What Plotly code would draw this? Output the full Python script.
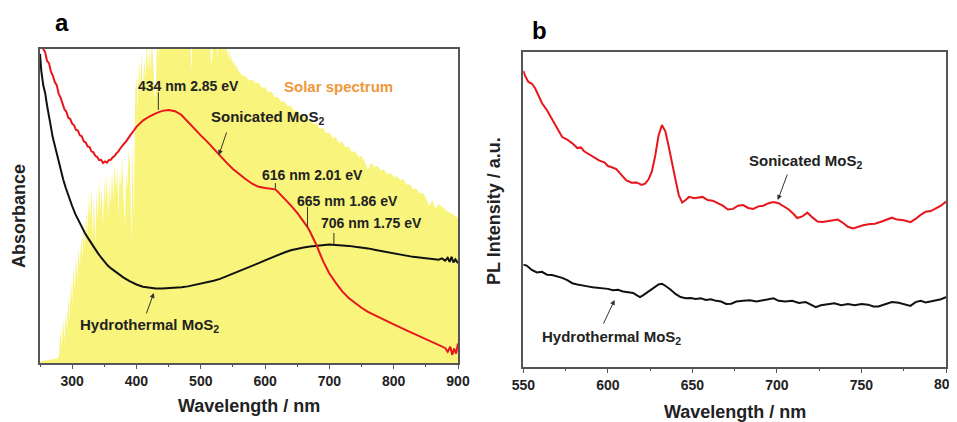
import plotly.graph_objects as go

# ---------------- Panel a : absorbance + solar spectrum ----------------
solar_nm = [250, 265, 278] + list(range(280, 560, 2)) + list(range(560, 905, 5))
solar_val = [0.005, 0.01, 0.015,
    0.03, 0.11, 0.05, 0.14, 0.07, 0.16, 0.10, 0.22, 0.13, 0.27,
    0.18, 0.31, 0.23, 0.34, 0.26, 0.37, 0.30, 0.41, 0.33, 0.45,
    0.37, 0.49, 0.41, 0.53, 0.46, 0.56, 0.40, 0.53, 0.37, 0.55,
    0.45, 0.59, 0.48, 0.56, 0.43, 0.59, 0.50, 0.61, 0.46, 0.58,
    0.50, 0.61, 0.52, 0.64, 0.55, 0.62, 0.47, 0.61, 0.56, 0.66,
    0.51, 0.44, 0.61, 0.55, 0.69, 0.62, 0.38, 0.71, 0.44, 0.86,
    0.92, 0.80, 0.96, 0.88, 0.99, 0.85, 0.97, 0.90, 1.03, 0.92,
    1.00, 0.93, 1.04, 0.95, 0.86, 0.84, 1.05, 0.97, 1.09, 1.01,
    1.12, 1.06, 1.16, 1.10, 1.18, 1.08, 1.20, 1.12, 1.19, 1.14,
    1.21, 1.13, 1.20, 1.15, 1.19, 1.12, 1.18, 1.14, 1.17, 1.10,
    1.16, 1.08, 0.99, 0.93, 1.12, 1.15, 1.09, 1.14, 1.10, 1.15,
    1.12, 1.14, 1.08, 1.13, 1.10, 1.12, 1.06, 1.10, 0.94, 0.98,
    1.08, 1.04, 1.07, 0.97, 1.05, 1.02, 1.06, 1.00, 1.04, 0.99,
    1.02, 0.97, 1.00, 0.96, 0.98, 0.95, 0.96, 0.94, 0.95, 0.93,
    0.928, 0.915, 0.914, 0.900, 0.903, 0.890, 0.894, 0.876, 0.879, 0.862,
    0.864, 0.846, 0.849, 0.831, 0.834, 0.817, 0.820, 0.802, 0.805, 0.788,
    0.792, 0.774, 0.778, 0.760, 0.764, 0.745, 0.749, 0.731, 0.735, 0.716,
    0.720, 0.701, 0.705, 0.686, 0.690, 0.671, 0.675, 0.656, 0.660, 0.642,
    0.615, 0.638, 0.624, 0.627, 0.613, 0.616, 0.600, 0.606, 0.592, 0.595,
    0.583, 0.584, 0.568, 0.569, 0.554, 0.556, 0.540, 0.542, 0.526, 0.500,
    0.519, 0.492, 0.507, 0.497, 0.490, 0.482, 0.476, 0.468, 0.463]

red_a_nm = [252, 255, 258, 261, 264, 267, 270, 273, 276, 279, 282, 285, 288, 291,
            294, 297, 300, 303, 306, 309, 312, 315, 318, 321, 324, 327, 330, 333,
            336, 339, 342, 345, 348, 351, 354, 357, 360, 363, 366, 369, 372, 375,
            378, 381, 384, 387, 390, 395, 400, 410, 420, 430, 440, 450, 460, 470,
            480, 490, 500, 510, 520, 530, 540, 550, 560, 570, 580, 590, 600, 610,
            616, 620, 630, 640, 650, 660, 666, 670, 680, 690, 700, 710, 720, 730,
            740, 750, 760, 780, 800, 820, 840, 860, 870, 880, 884, 888, 891, 894,
            897, 900]
red_a_val = [1.03, 1.0, 0.99, 0.962, 0.955, 0.928, 0.915, 0.895, 0.885, 0.858, 0.845,
             0.822, 0.808, 0.80, 0.781, 0.777, 0.762, 0.757, 0.742, 0.740, 0.725,
             0.722, 0.706, 0.703, 0.69, 0.688, 0.674, 0.671, 0.660, 0.656, 0.646,
             0.647, 0.637, 0.642, 0.638, 0.646, 0.647, 0.655, 0.659, 0.668, 0.674,
             0.684, 0.69, 0.699, 0.706, 0.716, 0.724, 0.738, 0.752, 0.772, 0.785,
             0.795, 0.803, 0.806, 0.802, 0.79, 0.768, 0.745, 0.725, 0.705, 0.682,
             0.658, 0.638, 0.618, 0.600, 0.585, 0.571, 0.561, 0.557, 0.556, 0.553,
             0.545, 0.525, 0.502, 0.478, 0.452, 0.433, 0.418, 0.375, 0.325, 0.285,
             0.255, 0.228, 0.207, 0.19, 0.176, 0.163, 0.142, 0.123, 0.104, 0.085,
             0.066, 0.058, 0.048, 0.036, 0.052, 0.026, 0.046, 0.03, 0.062]

black_a_nm = [250, 252, 255, 258, 261, 264, 267, 270, 274, 278, 282, 286, 290, 295,
              300, 305, 310, 315, 320, 325, 330, 335, 340, 345, 350, 355, 360, 365,
              370, 380, 390, 400, 410, 420, 430, 440, 450, 460, 470, 480, 490, 500,
              510, 520, 530, 540, 550, 560, 570, 580, 590, 600, 610, 620, 630, 640,
              650, 660, 670, 680, 690, 700, 710, 720, 730, 740, 750, 760, 770, 780,
              790, 800, 810, 820, 830, 840, 850, 860, 870, 875, 880, 884, 887, 890,
              893, 896, 900]
black_a_val = [0.985, 0.93, 0.885, 0.86, 0.82, 0.785, 0.75, 0.717, 0.685, 0.65, 0.615,
               0.585, 0.558, 0.527, 0.5, 0.474, 0.452, 0.432, 0.413, 0.397, 0.38,
               0.364, 0.35, 0.336, 0.322, 0.311, 0.302, 0.294, 0.286, 0.272, 0.26,
               0.25, 0.243, 0.239, 0.237, 0.237, 0.238, 0.239, 0.241, 0.244, 0.248,
               0.252, 0.257, 0.262, 0.268, 0.276, 0.284, 0.292, 0.3, 0.309, 0.318,
               0.327, 0.336, 0.345, 0.352, 0.359, 0.364, 0.368, 0.371, 0.373, 0.375,
               0.377, 0.376, 0.375, 0.373, 0.37, 0.368, 0.365, 0.361, 0.357, 0.352,
               0.348, 0.344, 0.341, 0.338, 0.336, 0.334, 0.331, 0.329, 0.333, 0.326,
               0.335, 0.322, 0.338, 0.32, 0.33, 0.318]

# ---------------- Panel b : PL spectra ----------------
red_b_nm = [550, 551, 553, 555, 557, 559, 561, 564, 567, 570, 573, 576, 579, 582, 584,
            586, 589, 592, 595, 598, 600, 602, 605, 608, 611, 614, 617, 620, 622, 624,
            626, 628, 630, 632, 634, 636, 638, 640, 642, 644, 646, 648, 651, 654, 656,
            659, 662, 665, 668, 671, 674, 677, 680, 683, 686, 689, 692, 695, 698, 701,
            704, 707, 710, 712, 715, 718, 721, 724, 727, 730, 733, 736, 739, 742, 745,
            748, 751, 755, 758, 762, 765, 768, 771, 775, 779, 782, 785, 788, 791, 794,
            797, 800]
red_b_val = [0.94, 0.925, 0.905, 0.9, 0.885, 0.86, 0.838, 0.815, 0.785, 0.755, 0.73,
             0.722, 0.71, 0.695, 0.697, 0.685, 0.675, 0.663, 0.655, 0.65, 0.638, 0.635,
             0.628, 0.61, 0.592, 0.585, 0.586, 0.578, 0.582, 0.595, 0.62, 0.67, 0.735,
             0.768, 0.748, 0.70, 0.652, 0.595, 0.545, 0.522, 0.53, 0.54, 0.536, 0.538,
             0.54, 0.53, 0.528, 0.52, 0.512, 0.5, 0.502, 0.512, 0.514, 0.505, 0.502,
             0.51, 0.512, 0.52, 0.524, 0.52, 0.51, 0.5, 0.485, 0.473, 0.478, 0.49,
             0.475, 0.462, 0.46, 0.462, 0.465, 0.468, 0.458, 0.445, 0.44, 0.445, 0.45,
             0.454, 0.455, 0.462, 0.468, 0.474, 0.468, 0.466, 0.46, 0.47, 0.483, 0.493,
             0.495, 0.503, 0.512, 0.525]

black_b_nm = [550, 552, 555, 558, 561, 564, 567, 570, 573, 576, 579, 582, 585, 588, 591,
              594, 597, 600, 603, 606, 609, 612, 615, 617, 619, 621, 624, 627, 630, 632,
              634, 637, 640, 643, 646, 649, 652, 655, 658, 661, 664, 667, 670, 673, 676,
              680, 684, 688, 692, 695, 698, 701, 705, 709, 713, 717, 720, 723, 726, 730,
              734, 738, 742, 746, 750, 754, 757, 760, 764, 768, 772, 776, 779, 782, 785,
              788, 791, 794, 797, 800]
black_b_val = [0.325, 0.322, 0.308, 0.3, 0.302, 0.293, 0.292, 0.288, 0.283, 0.276,
               0.266, 0.262, 0.258, 0.256, 0.253, 0.252, 0.249, 0.248, 0.244, 0.245,
               0.24, 0.238, 0.235, 0.228, 0.222, 0.228, 0.24, 0.25, 0.262, 0.264,
               0.258, 0.246, 0.232, 0.222, 0.218, 0.219, 0.216, 0.218, 0.213, 0.215,
               0.21, 0.208, 0.2, 0.201, 0.208, 0.21, 0.212, 0.208, 0.212, 0.214, 0.218,
               0.21, 0.208, 0.21, 0.203, 0.206, 0.197, 0.19, 0.196, 0.2, 0.202, 0.196,
               0.2, 0.196, 0.2, 0.198, 0.192, 0.192, 0.2, 0.206, 0.204, 0.198, 0.194,
               0.206, 0.21, 0.205, 0.208, 0.212, 0.215, 0.222]

xticks_a = [300, 400, 500, 600, 700, 800, 900]
xticks_b = [550, 600, 650, 700, 750, 800]
xticks_b_text = ["550", "600", "650", "700", "750", ""]   # last label drawn separately (edge)
xlabel_b_last = "800"

FONT = "Liberation Sans, Arial, sans-serif"
RED = "#e8161c"
BLACK = "#111111"
FRAME = "#555555"

# page body has an 8px margin; figure sized to fill the rest of the window
W, H, OFF = 949, 414, 8
def PX(px):
    return (px - OFF) / W
def PY(py):
    return 1 - (py - OFF) / H

fig = go.Figure()
fig.add_trace(go.Scatter(x=solar_nm, y=solar_val, mode="lines", fill="tozeroy",
                         line=dict(width=0, color="#f8f47c"), fillcolor="#f8f47c",
                         xaxis="x", yaxis="y", hoverinfo="skip"))
fig.add_trace(go.Scatter(x=black_a_nm, y=black_a_val, mode="lines",
                         line=dict(width=2, color=BLACK), xaxis="x", yaxis="y"))
fig.add_trace(go.Scatter(x=red_a_nm, y=red_a_val, mode="lines",
                         line=dict(width=2, color=RED), xaxis="x", yaxis="y"))
fig.add_trace(go.Scatter(x=red_b_nm, y=red_b_val, mode="lines",
                         line=dict(width=2, color=RED), xaxis="x2", yaxis="y2"))
fig.add_trace(go.Scatter(x=black_b_nm, y=black_b_val, mode="lines",
                         line=dict(width=2, color=BLACK), xaxis="x2", yaxis="y2"))

axis_common = dict(showline=True, mirror=True, linecolor=FRAME, linewidth=1.5,
                   showgrid=False, zeroline=False, automargin=False)
tickfont = dict(family=FONT, size=14, color="#222", weight="bold")

fig.update_layout(
    template="none",
    width=W, height=H, margin=dict(l=0, r=0, t=0, b=0, pad=0),
    paper_bgcolor="white", plot_bgcolor="white", showlegend=False,
    font=dict(family=FONT, color="#222"),
    xaxis=dict(domain=[PX(40), PX(458)], range=[250, 900], tickvals=xticks_a,
               ticks="outside", ticklen=4, tickwidth=1.2, tickcolor=FRAME,
               tickfont=tickfont, anchor="y",
               minor=dict(dtick=50, tick0=250, ticks="outside", ticklen=2.5, tickcolor=FRAME),
               **axis_common),
    yaxis=dict(domain=[PY(363), PY(49)], range=[0, 1], showticklabels=False,
               ticks="", anchor="x", **axis_common),
    xaxis2=dict(domain=[PX(523.3), PX(946)], range=[550, 800], tickvals=xticks_b,
                ticktext=xticks_b_text,
                ticks="outside", ticklen=4, tickwidth=1.2, tickcolor=FRAME,
                tickfont=tickfont, anchor="y2",
                minor=dict(dtick=25, tick0=550, ticks="outside", ticklen=2.5, tickcolor=FRAME),
                **axis_common),
    yaxis2=dict(domain=[PY(367), PY(52)], range=[0, 1], showticklabels=False,
                ticks="", anchor="x2", **axis_common),
)

def txt(s, x, y, xref="x", yref="y", size=14, color="#222", angle=0):
    fig.add_annotation(text=s, x=x, y=y, xref=xref, yref=yref, showarrow=False,
                       textangle=angle, xanchor="center", yanchor="middle",
                       font=dict(family=FONT, size=size, color=color, weight="bold"))

def arrow(x, y, ax, ay, xref="x", yref="y"):
    fig.add_annotation(text="", x=x, y=y, ax=ax, ay=ay, xref=xref, yref=yref,
                       axref=xref, ayref=yref, showarrow=True, arrowhead=2,
                       arrowsize=1, arrowwidth=1, arrowcolor="#333")

def leader(x, y0, y1, xref="x", yref="y"):
    fig.add_shape(type="line", x0=x, x1=x, y0=y0, y1=y1, xref=xref, yref=yref,
                  line=dict(color="#333", width=1))

# panel labels
txt("a", PX(62), PY(22), "paper", "paper", size=24, color="#000")
txt("b", PX(539), PY(30), "paper", "paper", size=24, color="#000")

# last tick label of panel b, at the right edge of the picture
fig.add_annotation(text=xlabel_b_last, x=800, y=PY(384), xref="x2", yref="paper",
                   showarrow=False, xanchor="center", yanchor="middle",
                   font=dict(family=FONT, size=14, color="#222", weight="bold"))

# panel a annotations
txt("434 nm 2.85 eV", 481, 0.882, size=14)
leader(434, 0.862, 0.806)
txt("Solar spectrum", 714, 0.882, size=15, color="#f0973a")
txt("Sonicated MoS<sub>2</sub>", 604, 0.783, size=15)
arrow(528, 0.662, 541, 0.739)
txt("616 nm 2.01 eV", 674, 0.60, size=14)
leader(616, 0.573, 0.555)
txt("665 nm 1.86 eV", 728, 0.516, size=14)
leader(666, 0.497, 0.433)
txt("706 nm 1.75 eV", 765, 0.446, size=14)
leader(707, 0.414, 0.378)
txt("Hydrothermal MoS<sub>2</sub>", 421, 0.118, size=15)
arrow(427, 0.223, 414.6, 0.153)

# panel b annotations
txt("Sonicated MoS<sub>2</sub>", 717, 0.651, "x2", "y2", size=15)
arrow(700.5, 0.53, 706.5, 0.616, "x2", "y2")
txt("Hydrothermal MoS<sub>2</sub>", 602.4, 0.095, "x2", "y2", size=15)
arrow(604, 0.213, 597, 0.133, "x2", "y2")

# axis titles
txt("Wavelength / nm", PX(249), PY(406), "paper", "paper", size=18, color="#222")
txt("Wavelength / nm", PX(735), PY(412), "paper", "paper", size=18, color="#222")
txt("Absorbance", PX(19), PY(216), "paper", "paper", size=18, color="#222", angle=-90)
txt("PL Intensity / a.u.", PX(494), PY(211), "paper", "paper", size=18, color="#222", angle=-90)

fig.write_html("out.html")
